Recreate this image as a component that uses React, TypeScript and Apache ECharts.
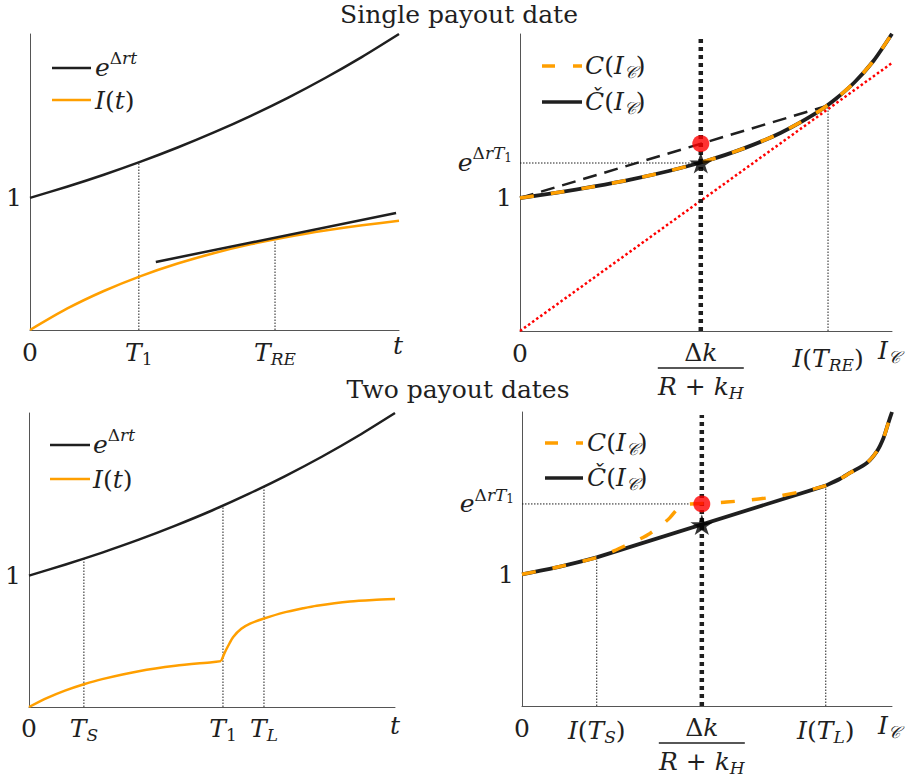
import React, { useEffect, useRef } from 'react';
import * as echarts from 'echarts';

const FONT = "'DejaVu Serif', 'Liberation Serif', serif";
const INK = '#1f1f1f';
const ORANGE = '#FF9F00';
const RED = '#FF0000';
const AXIS_GRAY = '#555555';

// ---------- Panel A (top-left): single payout date, time domain ----------
const timeA = [0, 0.1, 0.2, 0.3, 0.4, 0.5, 0.6, 0.7, 0.8, 0.9, 1];
const growthA = [1, 1.084, 1.175, 1.274, 1.381, 1.497, 1.623, 1.759, 1.907, 2.067, 2.24];
const incomeA = [0, 0.161, 0.295, 0.408, 0.503, 0.583, 0.65, 0.706, 0.753, 0.793, 0.826];
const tangentTimeA = [0.341, 0.992];
const tangentValueA = [0.515, 0.885];
const tickA = { T1: 0.295, TRE: 0.664 };
const guideTopA = { T1: 1.269, TRE: 0.687 };
const yMaxA = 2.24;

// ---------- Panel B (top-right): single payout date, cost curve ----------
const capitalB = [0, 0.1, 0.2, 0.3, 0.4, 0.5, 0.6, 0.7, 0.8, 0.85, 0.9, 0.95, 1];
const costB = [1, 1.041, 1.087, 1.14, 1.203, 1.278, 1.371, 1.489, 1.646, 1.748, 1.872, 2.03, 2.235];
const rayCapitalB = [0, 1];
const rayValueB = [0, 2.015];
const chordCapitalB = [0, 0.822];
const chordValueB = [1, 1.69];
const thresholdB = 0.486;
const thresholdTopB = 2.195;
const starValueB = 1.263;
const dotValueB = 1.408;
const ireB = 0.828;
const ireTopB = 1.7;
const yMaxB = 2.233;

// ---------- Panel C (bottom-left): two payout dates, time domain ----------
const timeC = [0, 0.1, 0.2, 0.3, 0.4, 0.5, 0.6, 0.7, 0.8, 0.9, 1];
const growthC = [1, 1.084, 1.175, 1.273, 1.38, 1.495, 1.621, 1.757, 1.904, 2.064, 2.237];
const incomeTimeC1 = [0, 0.05, 0.1, 0.15, 0.2, 0.3, 0.4, 0.5, 0.525];
const incomeC1 = [0, 0.069, 0.126, 0.173, 0.212, 0.272, 0.313, 0.341, 0.349];
const incomeTimeC2 = [0.525, 0.535, 0.545, 0.558, 0.58, 0.604, 0.642, 0.695, 0.75, 0.786, 0.877, 0.94, 1];
const incomeC2 = [0.349, 0.415, 0.47, 0.533, 0.595, 0.635, 0.673, 0.718, 0.752, 0.771, 0.803, 0.815, 0.822];
const tickC = { TS: 0.15, T1: 0.53, TL: 0.642 };
const guideTopC = { TS: 1.128, T1: 1.532, TL: 1.677 };
const yMaxC = 2.237;

// ---------- Panel D (bottom-right): two payout dates, cost curves ----------
const hullCapitalD1 = [0, 0.05, 0.1, 0.15, 0.202];
const hullD1 = [1, 1.027, 1.057, 1.09, 1.128];
const hullCapitalD2 = [0.202, 0.821];
const hullD2 = [1.128, 1.673];
const hullCapitalD3 = [0.821, 0.86, 0.886, 0.932, 0.959, 0.977, 0.99, 1];
const hullD3 = [1.673, 1.725, 1.769, 1.845, 1.933, 2.035, 2.148, 2.232];
const costCapitalD = [0, 0.05, 0.1, 0.15, 0.202, 0.25, 0.283, 0.32, 0.346, 0.38, 0.4, 0.415, 0.427, 0.445, 0.486, 0.553, 0.661, 0.751, 0.821, 0.86, 0.886, 0.932, 0.959, 0.977, 0.99, 1];
const costD = [1, 1.027, 1.057, 1.09, 1.128, 1.18, 1.222, 1.27, 1.31, 1.38, 1.43, 1.48, 1.515, 1.532, 1.537, 1.548, 1.579, 1.625, 1.673, 1.725, 1.769, 1.845, 1.933, 2.035, 2.148, 2.232];
const tickD = { ITS: 0.202, ITL: 0.821 };
const guideTopD = { ITS: 1.128, ITL: 1.673 };
const thresholdD = 0.486;
const thresholdTopD = 2.21;
const payoutLevelD = 1.534;
const starValueD = 1.377;
const yMaxD = 2.232;

const GRIDS = [
  { left: 30, top: 34, width: 369, height: 296 },
  { left: 520, top: 34, width: 372, height: 297 },
  { left: 29, top: 413, width: 366, height: 294 },
  { left: 522, top: 412, width: 370, height: 294 },
];
const Y_MAX = [yMaxA, yMaxB, yMaxC, yMaxD];

const STAR =
  'path://M0,-10L2.245,-3.09L9.51,-3.09L3.633,1.18L5.88,8.09L0,3.82L-5.88,8.09L-3.633,1.18L-9.51,-3.09L-2.245,-3.09Z';

const LH = 32;
const base = { fontFamily: FONT, lineHeight: LH, fill: INK };
const RICH: any = {
  it: { ...base, fontStyle: 'italic', fontSize: 25 },
  rm: { ...base, fontSize: 25 },
  sup: { ...base, fontStyle: 'italic', fontSize: 17, padding: [0, 0, 18, 0] },
  supr: { ...base, fontSize: 17, padding: [0, 0, 18, 0] },
  supsub: { ...base, fontSize: 12, padding: [0, 0, 9, 0] },
  sub: { ...base, fontStyle: 'italic', fontSize: 17, padding: [14, 0, 0, 0] },
  subr: { ...base, fontSize: 17, padding: [14, 0, 0, 0] },
};
const it = (s: string) => `{it|${s}}`;
const rm = (s: string) => `{rm|${s}}`;
const sup = (s: string) => `{sup|${s}}`;
const supr = (s: string) => `{supr|${s}}`;
const supsub = (s: string) => `{supsub|${s}}`;
const sub = (s: string) => `{sub|${s}}`;
const subr = (s: string) => `{subr|${s}}`;

const zip = (xs: number[], ys: number[]) => xs.map((x, i) => [x, ys[i]]);

function line(
  g: number, xs: number[], ys: number[], color: string, width: number, type: any, z: number,
  smooth: number | boolean = false, dashOffset = 0,
) {
  return {
    type: 'line',
    xAxisIndex: g,
    yAxisIndex: g,
    data: zip(xs, ys),
    symbol: 'none',
    showSymbol: false,
    clip: false,
    silent: true,
    smooth,
    z,
    emphasis: { disabled: true },
    lineStyle: { color, width, type, dashOffset, cap: 'butt', join: 'round' },
  };
}
const guide = (g: number, u: number, top: number) => line(g, [u, u], [0, top], INK, 1, [1.5, 1.5], 1);
const point = (g: number, u: number, v: number, symbol: string, size: any, color: string, z: number) => ({
  type: 'scatter',
  xAxisIndex: g,
  yAxisIndex: g,
  data: [[u, v]],
  symbol,
  symbolSize: size,
  symbolKeepAspect: true,
  itemStyle: { color },
  silent: true,
  z,
});

function baseOption(): any {
  const axisLine = { show: true, onZero: false, lineStyle: { color: AXIS_GRAY, width: 1 } };
  const S = 0.25;
  return {
    animation: false,
    backgroundColor: '#ffffff',
    grid: GRIDS.map((g) => ({ ...g, containLabel: false, outerBoundsMode: 'none' })),
    xAxis: GRIDS.map((_, i) => ({
      gridIndex: i, type: 'value', min: 0, max: 1,
      axisLine, axisTick: { show: false }, axisLabel: { show: false }, splitLine: { show: false },
    })),
    yAxis: GRIDS.map((_, i) => ({
      gridIndex: i, type: 'value', min: 0, max: Y_MAX[i],
      axisLine, axisTick: { show: false }, axisLabel: { show: false }, splitLine: { show: false },
    })),
    series: [
      // Panel A
      guide(0, tickA.T1, guideTopA.T1),
      guide(0, tickA.TRE, guideTopA.TRE),
      line(0, timeA, growthA, INK, 2.5, 'solid', 3, S),
      line(0, timeA, incomeA, ORANGE, 2.5, 'solid', 3, S),
      line(0, tangentTimeA, tangentValueA, INK, 2.5, 'solid', 4),
      // Panel B
      line(1, rayCapitalB, rayValueB, RED, 2.5, [2.5, 2.5], 2),
      guide(1, ireB, ireTopB),
      line(1, [0, thresholdB], [starValueB, starValueB], INK, 1, [1.5, 1.5], 1),
      line(1, [thresholdB, thresholdB], [0, thresholdTopB], INK, 4.5, [4, 4], 3),
      line(1, chordCapitalB, chordValueB, INK, 2.5, [14, 8], 3),
      line(1, capitalB, costB, INK, 3.8, 'solid', 4, S),
      line(1, capitalB, costB, ORANGE, 3.5, [14, 17], 5, S),
      point(1, thresholdB, dotValueB, 'circle', 17, RED, 7),
      point(1, thresholdB, starValueB, STAR, [23, 22], '#000000', 8),
      // Panel C
      guide(2, tickC.TS, guideTopC.TS),
      guide(2, tickC.T1, guideTopC.T1),
      guide(2, tickC.TL, guideTopC.TL),
      line(2, timeC, growthC, INK, 2.5, 'solid', 3, S),
      line(2, incomeTimeC1, incomeC1, ORANGE, 2.5, 'solid', 3, S),
      line(2, incomeTimeC2, incomeC2, ORANGE, 2.5, 'solid', 3, S),
      // Panel D
      guide(3, tickD.ITS, guideTopD.ITS),
      guide(3, tickD.ITL, guideTopD.ITL),
      line(3, [0, thresholdD], [payoutLevelD, payoutLevelD], INK, 1, [1.5, 1.5], 1),
      line(3, [thresholdD, thresholdD], [0, thresholdTopD], INK, 4.5, [4, 4], 3),
      line(3, hullCapitalD1, hullD1, INK, 3.8, 'solid', 4, S),
      line(3, hullCapitalD2, hullD2, INK, 3.8, 'solid', 4),
      line(3, hullCapitalD3, hullD3, INK, 3.8, 'solid', 4, S),
      line(3, costCapitalD, costD, ORANGE, 3.5, [14, 17], 5, S),
      point(3, thresholdD, payoutLevelD, 'circle', 17, RED, 7),
      point(3, thresholdD, starValueD, STAR, [23, 22], '#000000', 8),
    ],
  };
}

function buildGraphics(chart: any) {
  const P = (g: number, u: number, v: number) => chart.convertToPixel({ gridIndex: g }, [u, v]) as number[];
  const els: any[] = [];
  const txt = (text: string, x: number, y: number, align = 'center') =>
    els.push({
      type: 'text', silent: true, z: 100,
      style: { text, x, y, align, verticalAlign: 'middle', rich: RICH, fill: INK, font: `25px ${FONT}` },
    });
  const seg = (x1: number, y1: number, x2: number, y2: number, color: string, width: number, dash: any) =>
    els.push({
      type: 'line', silent: true, z: 100,
      shape: { x1, y1, x2, y2 },
      style: { stroke: color, lineWidth: width, lineDash: dash, lineCap: 'butt' },
    });
  const xTick = (g: number, u: number, text: string, dy: number) => {
    const [x, y] = P(g, u, 0);
    txt(text, x, y + dy);
  };
  const fraction = (g: number, u: number) => {
    const [x, y] = P(g, u, 0);
    txt(rm('Δ') + it('k'), x, y + 21);
    seg(x - 43, y + 37, x + 43, y + 37, INK, 1.6, null);
    txt(it('R') + rm(' + ') + it('k') + sub('H'), x, y + 55);
  };
  const yLabel = (g: number, v: number, text: string, dy = 0) => {
    const [x, y] = P(g, 0, v);
    txt(text, x - 8, y + dy, 'right');
  };

  const eRt = it('e') + supr('Δ') + sup('rt');
  const eRT1 = it('e') + supr('Δ') + sup('rT') + supsub('1');
  const It = it('I') + rm('(') + it('t') + rm(')');
  const Ic = it('I') + sub('𝒞');
  const CIc = it('C') + rm('(') + Ic + rm(')');
  const CcIc = it('Č') + rm('(') + Ic + rm(')');

  // titles
  txt(rm('Single payout date'), 459, 14);
  txt(rm('Two payout dates'), 458, 389);

  // Panel A
  xTick(0, 0, rm('0'), 22);
  xTick(0, tickA.T1, it('T') + subr('1'), 22);
  xTick(0, tickA.TRE, it('T') + sub('RE'), 22);
  {
    const [x, y] = P(0, 1, 0);
    txt(it('t'), x - 1, y + 15);
  }
  yLabel(0, 1, rm('1'));
  seg(52, 68, 91, 68, INK, 2.5, null);
  seg(52, 100, 91, 100, ORANGE, 2.5, null);
  txt(eRt, 95, 67, 'left');
  txt(It, 95, 100, 'left');

  // Panel B
  xTick(1, 0, rm('0'), 22);
  fraction(1, thresholdB);
  xTick(1, ireB, it('I') + rm('(') + it('T') + sub('RE') + rm(')'), 27);
  {
    const [x, y] = P(1, 1, 0);
    txt(Ic, x - 14, y + 19, 'left');
  }
  yLabel(1, 1, rm('1'));
  yLabel(1, starValueB, eRT1, -1);
  seg(542, 66, 582, 66, ORANGE, 3.5, [13, 18]);
  seg(542, 102, 582, 102, INK, 3.5, null);
  txt(CIc, 585, 65, 'left');
  txt(CcIc, 585, 101, 'left');

  // Panel C
  xTick(2, 0, rm('0'), 21);
  xTick(2, tickC.TS, it('T') + sub('S'), 21);
  xTick(2, tickC.T1, it('T') + subr('1'), 21);
  xTick(2, tickC.TL, it('T') + sub('L'), 21);
  {
    const [x, y] = P(2, 1, 0);
    txt(it('t'), x, y + 18);
  }
  yLabel(2, 1, rm('1'));
  seg(50, 445, 90, 445, INK, 2.5, null);
  seg(50, 479, 90, 479, ORANGE, 2.5, null);
  txt(eRt, 93, 444, 'left');
  txt(It, 93, 479, 'left');

  // Panel D
  xTick(3, 0, rm('0'), 22);
  xTick(3, tickD.ITS, it('I') + rm('(') + it('T') + sub('S') + rm(')'), 24);
  fraction(3, thresholdD);
  xTick(3, tickD.ITL, it('I') + rm('(') + it('T') + sub('L') + rm(')'), 24);
  {
    const [x, y] = P(3, 1, 0);
    txt(Ic, x - 14, y + 19, 'left');
  }
  yLabel(3, 1, rm('1'));
  yLabel(3, payoutLevelD, eRT1, 0);
  seg(545, 443, 583, 443, ORANGE, 3.5, [13, 18]);
  seg(545, 478, 583, 478, INK, 3.5, null);
  txt(CIc, 587, 442, 'left');
  txt(CcIc, 587, 477, 'left');

  return els;
}

export default function App() {
  const ref = useRef<HTMLDivElement>(null);
  useEffect(() => {
    if (!ref.current) return;
    const chart = echarts.init(ref.current, null, { renderer: 'svg' });
    chart.setOption(baseOption());
    chart.setOption({ graphic: buildGraphics(chart) });
    return () => chart.dispose();
  }, []);
  return (
    <div
      ref={ref}
      style={{ position: 'fixed', left: 0, top: 0, width: 907, height: 777, background: '#ffffff' }}
    />
  );
}
